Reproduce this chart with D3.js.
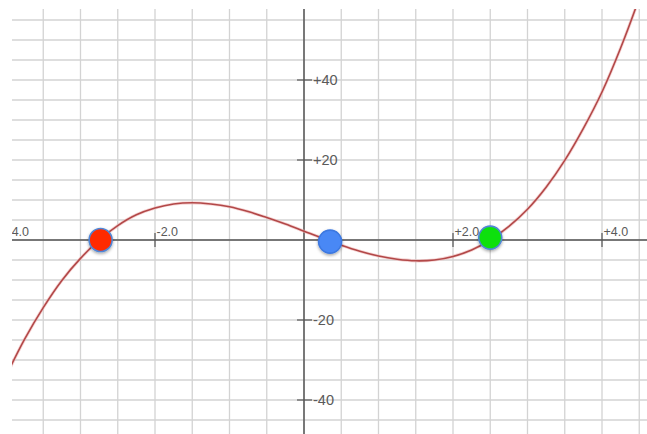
<!DOCTYPE html>
<html>
<head>
<meta charset="utf-8">
<script src="https://cdn.jsdelivr.net/npm/d3@7/dist/d3.min.js"></script>
<style>
  html, body { margin: 0; padding: 0; background: #fff; }
  svg { display: block; }
</style>
</head>
<body>
<svg id="chart" width="647" height="434"></svg>
<script>
// Cubic curve samples (x, y)
const curveX = [-4.0, -3.75, -3.5, -3.25, -3.0, -2.75, -2.5, -2.25, -2.0, -1.75, -1.5, -1.25, -1.0, -0.75, -0.5, -0.25,
                0.0, 0.25, 0.5, 0.75, 1.0, 1.25, 1.5, 1.75, 2.0, 2.25, 2.5, 2.75, 3.0, 3.25, 3.5, 3.75, 4.0, 4.25, 4.5, 4.75];
const curveY = [-34.0, -24.8, -16.9, -10.1, -4.6, 0.0, 3.6, 6.3, 8.0, 9.0, 9.3, 9.0, 8.3, 7.1, 5.6, 4.0,
                2.2, 0.4, -1.3, -2.8, -4.0, -4.8, -5.2, -5.0, -4.1, -2.5, 0.0, 3.4, 7.7, 13.2, 19.9, 27.9, 37.0, 48.0, 60.5, 74.5];

// Marked roots
const rootNames = ["left", "middle", "right"];
const rootX = [-2.73, 0.35, 2.5];
const rootY = [0.0, -0.4, 0.6];
const rootColors = ["#ff2a00", "#4a88f5", "#11e011"];

// Axis ticks
const xTicks = [-4, -2, 2, 4];
const xTickLabels = ["-4.0", "-2.0", "+2.0", "+4.0"];
const yTicks = [40, 20, -20, -40];
const yTickLabels = ["+40", "+20", "-20", "-40"];

const W = 647, H = 434;
const plot = { left: 12, top: 9, right: 647, bottom: 434 };

const x = d3.scaleLinear().domain([-4, 4]).range([6, 602]);
const y = d3.scaleLinear().domain([-40, 40]).range([400, 80]);

const svg = d3.select("#chart");
const defs = svg.append("defs");
defs.append("clipPath").attr("id", "plotClip")
  .append("rect")
  .attr("x", plot.left).attr("y", plot.top)
  .attr("width", plot.right - plot.left).attr("height", plot.bottom - plot.top);

const shadow = defs.append("filter").attr("id", "dotShadow")
  .attr("x", "-50%").attr("y", "-50%").attr("width", "200%").attr("height", "200%");
shadow.append("feDropShadow")
  .attr("dx", 0).attr("dy", 1.5).attr("stdDeviation", 1.5)
  .attr("flood-color", "#000").attr("flood-opacity", 0.35);

const g = svg.append("g").attr("clip-path", "url(#plotClip)");

// Grid: every 0.5 in x, every 5 in y
const gridX = d3.range(-4, 4.75, 0.5);
const gridY = d3.range(-50, 61, 5);
g.append("g").selectAll("line").data(gridX).join("line")
  .attr("x1", d => x(d)).attr("x2", d => x(d))
  .attr("y1", plot.top).attr("y2", plot.bottom)
  .attr("stroke", "#d3d3d3").attr("stroke-width", 1.3);
g.append("g").selectAll("line").data(gridY).join("line")
  .attr("y1", d => y(d)).attr("y2", d => y(d))
  .attr("x1", plot.left).attr("x2", plot.right)
  .attr("stroke", "#d3d3d3").attr("stroke-width", 1.3);

// Axes
g.append("line")
  .attr("x1", plot.left).attr("x2", plot.right)
  .attr("y1", y(0)).attr("y2", y(0))
  .attr("stroke", "#555").attr("stroke-width", 1.3);
g.append("line")
  .attr("x1", x(0)).attr("x2", x(0))
  .attr("y1", plot.top).attr("y2", plot.bottom)
  .attr("stroke", "#555").attr("stroke-width", 1.5);

// X ticks and labels
const xt = g.append("g").selectAll("g").data(xTicks).join("g");
xt.append("line")
  .attr("x1", d => x(d)).attr("x2", d => x(d))
  .attr("y1", y(0) - 7).attr("y2", y(0) + 7)
  .attr("stroke", "#555").attr("stroke-width", 1.2);
xt.append("text")
  .attr("x", d => x(d) + 1.5).attr("y", y(0) - 4.5)
  .attr("font-family", "Liberation Sans, Arial, sans-serif")
  .attr("font-size", 12.5).attr("fill", "#5a5a5a")
  .text((d, i) => xTickLabels[i]);

// Y ticks and labels
const yt = g.append("g").selectAll("g").data(yTicks).join("g");
yt.append("line")
  .attr("x1", x(0) - 7).attr("x2", x(0) + 8)
  .attr("y1", d => y(d)).attr("y2", d => y(d))
  .attr("stroke", "#555").attr("stroke-width", 1.2);
yt.append("text")
  .attr("x", x(0) + 9).attr("y", d => y(d))
  .attr("dy", "0.36em")
  .attr("font-family", "Liberation Sans, Arial, sans-serif")
  .attr("font-size", 14.5).attr("fill", "#5a5a5a")
  .text((d, i) => yTickLabels[i]);

// Curve
const pts = curveX.map((v, i) => [v, curveY[i]]);
const line = d3.line().x(d => x(d[0])).y(d => y(d[1])).curve(d3.curveCatmullRom.alpha(0.5));
g.append("path").datum(pts)
  .attr("d", line)
  .attr("fill", "none")
  .attr("stroke", "#f0b8b8").attr("stroke-width", 3.2).attr("stroke-opacity", 0.6);
g.append("path").datum(pts)
  .attr("d", line)
  .attr("fill", "none")
  .attr("stroke", "#b24848").attr("stroke-width", 1.6);

// Root markers
g.append("g").selectAll("circle").data(rootNames).join("circle")
  .attr("cx", (d, i) => x(rootX[i]))
  .attr("cy", (d, i) => y(rootY[i]))
  .attr("r", 11.5)
  .attr("fill", (d, i) => rootColors[i])
  .attr("stroke", (d, i) => i === 1 ? "#3c78e0" : "#4f86d6")
  .attr("stroke-width", 1.6)
  .attr("filter", "url(#dotShadow)");
</script>
</body>
</html>
